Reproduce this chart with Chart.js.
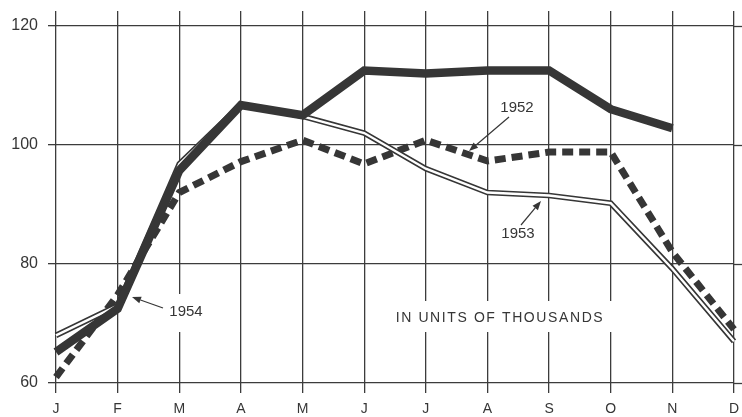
<!DOCTYPE html>
<html>
<head>
<meta charset="utf-8">
<script src="https://cdn.jsdelivr.net/npm/chart.js@4"></script>
<style>
  html, body { margin: 0; padding: 0; background: #ffffff; }
  #wrap { width: 742px; height: 417px; position: relative; }
</style>
</head>
<body>
<div id="wrap"><canvas id="c"></canvas></div>
<script>
// ---- data ----
const months = ['J','F','M','A','M','J','J','A','S','O','N','D'];
const yTicks = [60, 80, 100, 120];
const s1954 = [65.2, 72.5, 95.7, 106.7, 105, 112.5, 112, 112.5, 112.5, 106, 102.8, null];
const s1953 = [68, 73, 96.8, 106.8, 104.8, 102, 96, 92, 91.5, 90.2, 79.2, 67];
const s1952 = [61, 74.8, 92, 97.2, 100.8, 96.8, 100.8, 97.3, 98.8, 98.8, 82, 69];
const unitsNote = 'IN UNITS OF THOUSANDS';

const INK = '#363636';
const GRID = '#3c3c3c';
const FONT = '"Liberation Sans", Arial, sans-serif';

function arrow(ctx, x1, y1, x2, y2) {
  ctx.save();
  ctx.strokeStyle = INK; ctx.fillStyle = INK; ctx.lineWidth = 1.2;
  const a = Math.atan2(y2 - y1, x2 - x1);
  const L = 9, W = 3.5;
  const bx = x2 - L * Math.cos(a), by = y2 - L * Math.sin(a);
  ctx.beginPath(); ctx.moveTo(x1, y1); ctx.lineTo(bx, by); ctx.stroke();
  ctx.beginPath();
  ctx.moveTo(x2, y2);
  ctx.lineTo(bx + W * Math.sin(a), by - W * Math.cos(a));
  ctx.lineTo(bx - W * Math.sin(a), by + W * Math.cos(a));
  ctx.closePath(); ctx.fill();
  ctx.restore();
}

const deco = {
  id: 'deco',
  beforeDatasetsDraw(chart) {
    const { ctx, chartArea, scales } = chart;
    const y = scales.y;
    ctx.save();
    ctx.strokeStyle = GRID; ctx.lineWidth = 1.3;
    yTicks.forEach(v => {
      const py = Math.round(y.getPixelForValue(v)) + 0.5;
      ctx.beginPath(); ctx.moveTo(chartArea.right, py); ctx.lineTo(chart.width, py); ctx.stroke();
    });
    ctx.fillStyle = '#ffffff';
    ctx.fillRect(160, 294, 50, 38);
    ctx.fillRect(382, 301, 234, 31);
    ctx.restore();
  },
  afterDatasetsDraw(chart) {
    const { ctx } = chart;
    ctx.save();
    ctx.fillStyle = INK;
    ctx.textBaseline = 'middle';
    ctx.textAlign = 'center';
    ctx.font = '15px ' + FONT;
    ctx.fillText('1954', 186, 312);
    ctx.fillText('1952', 517, 108);
    ctx.fillText('1953', 518, 234);
    ctx.font = '14px ' + FONT;
    try { ctx.letterSpacing = '1.6px'; } catch (e) {}
    ctx.fillText(unitsNote, 500, 318);
    try { ctx.letterSpacing = '0px'; } catch (e) {}
    ctx.restore();
    arrow(ctx, 163, 308, 132, 297);
    arrow(ctx, 509, 117, 469, 151);
    arrow(ctx, 521, 225, 541, 201);
  }
};

new Chart(document.getElementById('c'), {
  type: 'line',
  data: {
    labels: months,
    datasets: [
      { label: '1954', data: s1954, borderColor: INK, borderWidth: 8.5, order: 0 },
      { label: '1953 inner', data: s1953, borderColor: '#ffffff', borderWidth: 2.4, order: 1 },
      { label: '1953', data: s1953, borderColor: INK, borderWidth: 5.6, order: 2 },
      { label: '1952', data: s1952, borderColor: INK, borderWidth: 7, borderDash: [11, 6], borderCapStyle: 'butt', order: 3 }
    ]
  },
  options: {
    responsive: true,
    maintainAspectRatio: false,
    animation: false,
    devicePixelRatio: 1,
    layout: { padding: { top: 11, right: 8, left: 0, bottom: 0 } },
    elements: { point: { radius: 0 }, line: { tension: 0, borderJoinStyle: 'miter' } },
    plugins: { legend: { display: false }, tooltip: { enabled: false } },
    scales: {
      x: {
        type: 'category',
        offset: false,
        grid: { color: GRID, lineWidth: 1.3, tickLength: 10, offset: false, drawOnChartArea: true },
        border: { display: false },
        ticks: { color: INK, font: { family: FONT, size: 14 }, padding: 8, maxRotation: 0, autoSkip: false },
        afterFit(s) { s.height = 34; s.paddingLeft = 0; s.paddingRight = 0; }
      },
      y: {
        min: 60, max: 122.5,
        grid: { color: GRID, lineWidth: 1.3, tickLength: 8 },
        border: { display: false },
        ticks: { color: INK, font: { family: FONT, size: 16 }, padding: 10, stepSize: 20, includeBounds: false },
        afterBuildTicks(s) { s.ticks = yTicks.map(v => ({ value: v })); },
        afterFit(s) { s.width = 56; s.paddingTop = 0; s.paddingBottom = 0; }
      }
    }
  },
  plugins: [deco]
});
</script>
</body>
</html>
